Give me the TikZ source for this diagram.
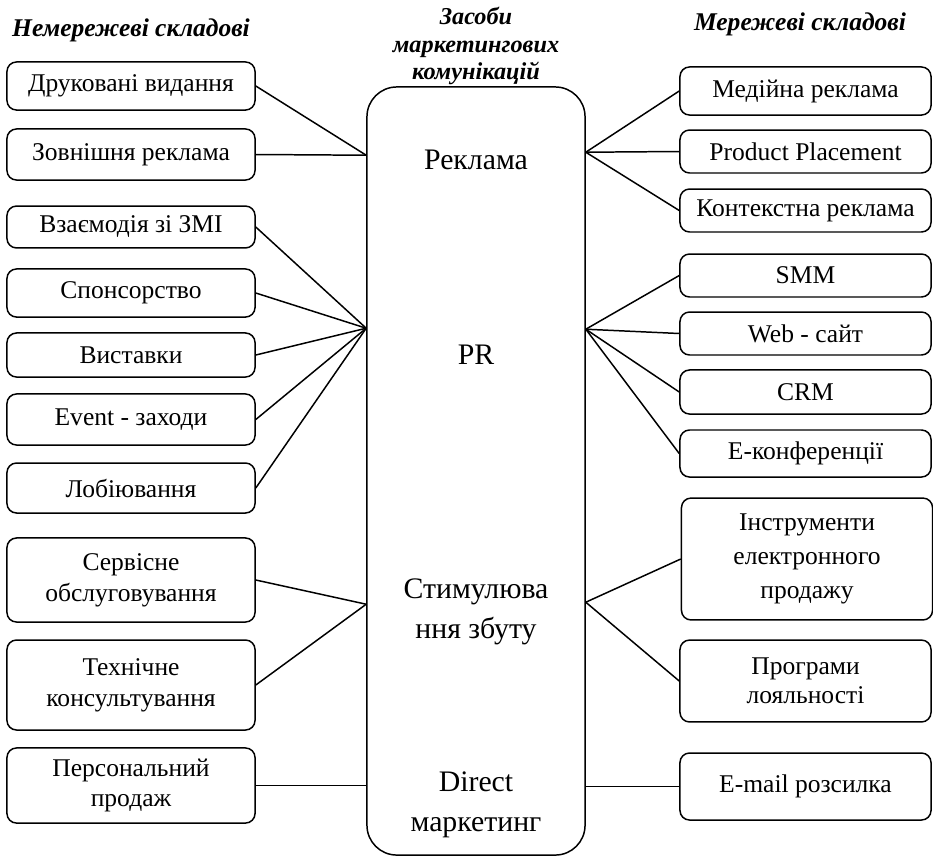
\documentclass[tikz,border=0pt]{standalone}
\usepackage{fontspec}
\setmainfont{Liberation Serif}
\usetikzlibrary{calc}

\begin{document}
\begin{tikzpicture}[
  x=0.47pt, y=-0.47pt,
  item/.style={draw,rounded corners=4.5pt,line width=0.7pt,align=center,inner sep=1pt,font=\fontsize{12}{14.5}\selectfont},
  lbox/.style={item,minimum width=116.6pt},
  rbox/.style={item,minimum width=118pt},
  hub/.style={draw,rounded corners=14pt,line width=0.7pt,minimum width=102.5pt,minimum height=361pt},
  hubtext/.style={align=center,font=\fontsize{14}{19}\selectfont},
  head/.style={align=center,font=\fontsize{12}{14}\selectfont\bfseries\itshape},
  link/.style={line width=0.7pt},
]
\useasboundingbox (0,0) rectangle (933,856);

% headings
\node[head] (hleft) at (131,30) {Немережеві складові};
\node[head] (hright) at (800,24) {Мережеві складові};
\node[head,font=\fontsize{11.4}{12.8}\selectfont\bfseries\itshape] (hmid) at (476,46) {Засоби\\маркетингових\\комунікацій};

% central block
\node[hub] (hub) at (476,471) {};
\node[hubtext] (tads) at (476,160) {Реклама};
\node[hubtext] (tpr) at (476,355) {PR};
\node[hubtext] (tsales) at (476,612) {Стимулюва\\ння збуту};
\node[hubtext] (tdirect) at (476,805) {Direct\\маркетинг};

\coordinate (adL) at ($(hub.north west)+(0,69)$);
\coordinate (adR) at ($(hub.north east)+(0,66)$);
\coordinate (prL) at ($(hub.north west)+(0,242)$);
\coordinate (prR) at ($(hub.north east)+(0,243)$);
\coordinate (stL) at ($(hub.north west)+(0,518)$);
\coordinate (stR) at ($(hub.north east)+(0,516)$);

% non-network
\node[lbox,minimum height=22.6pt] (l1) at (131,86) {Друковані видання};
\node[lbox,minimum height=24pt] (l2) at (131,154.5) {Зовнішня реклама};
\node[lbox,minimum height=19.7pt] (l3) at (131,227) {Взаємодія зі ЗМІ};
\node[lbox,minimum height=22.6pt] (l4) at (131,293) {Спонсорство};
\node[lbox,minimum height=20.7pt] (l5) at (131,355) {Виставки};
\node[lbox,minimum height=24pt] (l6) at (131,419.5) {Event - заходи};
\node[lbox,minimum height=23.5pt] (l7) at (131,488) {Лобіювання};
\node[lbox,minimum height=39.5pt] (l8) at (131,580) {Сервісне\\обслуговування};
\node[lbox,minimum height=42.3pt] (l9) at (131,685) {Технічне\\консультування};
\node[lbox,minimum height=35.3pt] (l10) at (131,785.5) {Персональний\\продаж};

% network
\node[rbox,minimum height=22.6pt] (r1) at (805.5,91) {Медійна реклама};
\node[rbox,minimum height=20.2pt] (r2) at (805.5,151.5) {Product Placement};
\node[rbox,minimum height=20.2pt] (r3) at (805.5,210.5) {Контекстна реклама};
\node[rbox,minimum height=20.2pt] (r4) at (805.5,275.5) {SMM};
\node[rbox,minimum height=20.2pt] (r5) at (805.5,333.5) {Web - сайт};
\node[rbox,minimum height=20.7pt] (r6) at (805.5,392) {CRM};
\node[rbox,minimum height=22.1pt] (r7) at (805.5,453.5) {Е-конференції};
\node[rbox,minimum height=57.3pt,font=\fontsize{12}{16}\selectfont] (r8) at (807,559) {Інструменти\\електронного\\продажу};
\node[rbox,minimum height=38.5pt,font=\fontsize{12}{13.5}\selectfont] (r9) at (805.5,681) {Програми\\лояльності};
\node[rbox,minimum height=31.5pt] (r10) at (805.5,786.5) {E-mail розсилка};

% links
\foreach \i in {1,2} {
  \draw[link] (l\i.east) -- (adL);
}
\foreach \i in {3,...,7} {
  \draw[link] (l\i.east) -- (prL);
}
\foreach \i in {8,9} {
  \draw[link] (l\i.east) -- (stL);
}
\draw[link] (l10.east) -- (l10.east -| hub.west);

\foreach \i in {1,2,3} {
  \draw[link] (adR) -- (r\i.west);
}
\foreach \i in {4,...,7} {
  \draw[link] (prR) -- (r\i.west);
}
\foreach \i in {8,9} {
  \draw[link] (stR) -- (r\i.west);
}
\draw[link] (hub.east |- r10.west) -- (r10.west);

\end{tikzpicture}
\end{document}
